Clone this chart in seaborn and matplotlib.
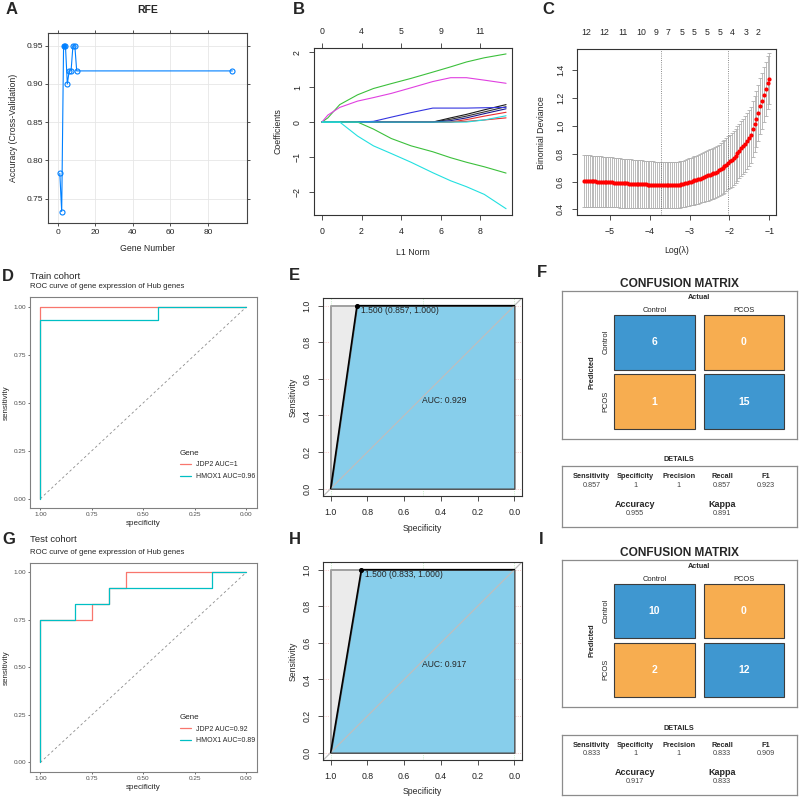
import matplotlib
matplotlib.use("Agg")
import matplotlib.pyplot as plt
import seaborn as sns
import pandas as pd

# ---------------- data ----------------
# A: RFE cross-validation accuracy
rfe_genes = [1, 2, 3, 4, 5, 6, 7, 8, 9, 10, 93]
rfe_accuracy = [0.783, 0.733, 0.950, 0.950, 0.900, 0.917, 0.917, 0.950, 0.950, 0.917, 0.917]
rfe_best = 3

# B: LASSO coefficient paths
l1_norm = [0, 0.3, 0.9, 1.8, 2.6, 3.5, 4.5, 5.6, 6.5, 7.3, 8.2, 9.3]
coef_black1 = [0, 0, 0, 0, 0, 0, 0, 0, 0.12, 0.22, 0.35, 0.50]
coef_black2 = [0, 0, 0, 0, 0, 0, 0, 0, 0.08, 0.17, 0.29, 0.44]
coef_red1 = [0, 0, 0, 0, 0, 0, 0, 0, 0, 0.07, 0.17, 0.28]
coef_red2 = [0, 0, 0, 0, 0, 0, 0, 0, 0, 0.02, 0.06, 0.12]
coef_navy = [0, 0, 0, 0, 0, 0, 0, 0, 0.04, 0.12, 0.24, 0.38]
coef_blue = [0, 0, 0, 0, 0.02, 0.14, 0.27, 0.40, 0.40, 0.40, 0.41, 0.42]
coef_green_up = [0, 0.12, 0.50, 0.78, 0.96, 1.10, 1.25, 1.43, 1.58, 1.72, 1.84, 1.95]
coef_green_down = [0, 0, 0, 0, -0.20, -0.47, -0.68, -0.85, -1.02, -1.15, -1.28, -1.46]
coef_magenta = [0, 0.20, 0.42, 0.60, 0.70, 0.82, 0.98, 1.16, 1.27, 1.27, 1.20, 1.11]
coef_cyan_down = [0, 0, 0, -0.40, -0.68, -0.90, -1.15, -1.45, -1.68, -1.85, -2.07, -2.48]
coef_cyan_small = [0, 0, 0, 0, 0, 0, 0, 0, 0, 0, 0.06, 0.18]
path_df_ticks = [0, 2, 4, 6, 8]
path_df_labels = ["0", "4", "5", "9", "11"]

# C: cross-validated binomial deviance
log_lambda = [-5.65, -5.60, -5.56, -5.51, -5.46, -5.42, -5.37, -5.32, -5.27, -5.23,
              -5.18, -5.13, -5.09, -5.04, -4.99, -4.95, -4.90, -4.85, -4.80, -4.76,
              -4.71, -4.66, -4.62, -4.57, -4.52, -4.48, -4.43, -4.38, -4.33, -4.29,
              -4.24, -4.19, -4.15, -4.10, -4.05, -4.01, -3.96, -3.91, -3.86, -3.82,
              -3.77, -3.72, -3.68, -3.63, -3.58, -3.54, -3.49, -3.44, -3.39, -3.35,
              -3.30, -3.25, -3.21, -3.16, -3.11, -3.07, -3.02, -2.97, -2.92, -2.88,
              -2.83, -2.78, -2.74, -2.69, -2.64, -2.60, -2.55, -2.50, -2.45, -2.41,
              -2.36, -2.31, -2.27, -2.22, -2.17, -2.13, -2.08, -2.03, -1.98, -1.94,
              -1.89, -1.84, -1.80, -1.75, -1.70, -1.66, -1.61, -1.56, -1.51, -1.47,
              -1.42, -1.37, -1.33, -1.28, -1.23, -1.19, -1.14, -1.09, -1.04, -1.00]
cv_mean = [0.607, 0.606, 0.605, 0.604, 0.603, 0.602, 0.601, 0.600, 0.599, 0.599,
           0.598, 0.597, 0.596, 0.595, 0.594, 0.594, 0.593, 0.592, 0.591, 0.590,
           0.589, 0.588, 0.588, 0.587, 0.586, 0.585, 0.585, 0.584, 0.583, 0.583,
           0.582, 0.581, 0.581, 0.580, 0.579, 0.579, 0.578, 0.578, 0.577, 0.577,
           0.576, 0.575, 0.575, 0.575, 0.575, 0.575, 0.575, 0.576, 0.576, 0.576,
           0.577, 0.579, 0.581, 0.584, 0.588, 0.592, 0.596, 0.600, 0.604, 0.608,
           0.612, 0.617, 0.622, 0.627, 0.632, 0.638, 0.644, 0.650, 0.655, 0.660,
           0.665, 0.672, 0.680, 0.690, 0.700, 0.710, 0.722, 0.735, 0.745, 0.756,
           0.768, 0.786, 0.802, 0.820, 0.838, 0.853, 0.872, 0.893, 0.910, 0.935,
           0.975, 1.015, 1.050, 1.095, 1.140, 1.180, 1.225, 1.265, 1.310, 1.340]
cv_sd = [0.186, 0.186, 0.185, 0.185, 0.184, 0.184, 0.183, 0.183, 0.182, 0.182,
         0.181, 0.181, 0.180, 0.180, 0.179, 0.179, 0.178, 0.178, 0.177, 0.177,
         0.176, 0.176, 0.175, 0.175, 0.174, 0.174, 0.173, 0.173, 0.172, 0.172,
         0.171, 0.171, 0.170, 0.170, 0.169, 0.169, 0.168, 0.168, 0.167, 0.167,
         0.166, 0.166, 0.165, 0.165, 0.165, 0.165, 0.165, 0.165, 0.165, 0.165,
         0.166, 0.166, 0.167, 0.167, 0.168, 0.169, 0.170, 0.171, 0.172, 0.173,
         0.174, 0.175, 0.176, 0.177, 0.178, 0.179, 0.180, 0.181, 0.182, 0.183,
         0.184, 0.185, 0.186, 0.187, 0.188, 0.189, 0.190, 0.191, 0.192, 0.193,
         0.194, 0.195, 0.196, 0.197, 0.198, 0.199, 0.200, 0.200, 0.201, 0.201,
         0.202, 0.202, 0.202, 0.202, 0.201, 0.200, 0.198, 0.195, 0.190, 0.185]
lambda_min = -3.71
lambda_1se = -2.03
nz_pos = [-5.6, -5.14, -4.68, -4.21, -3.85, -3.53, -3.2, -2.88, -2.56, -2.23, -1.92, -1.58, -1.27]
nz_labels = ["12", "12", "11", "10", "9", "7", "5", "5", "5", "5", "4", "3", "2"]

# D / G: ROC curves of hub genes
train_jdp2_spec = [1.0, 1.0, 0.0]
train_jdp2_sens = [0.0, 1.0, 1.0]
train_hmox1_spec = [1.0, 1.0, 0.429, 0.429, 0.0]
train_hmox1_sens = [0.0, 0.933, 0.933, 1.0, 1.0]
test_jdp2_spec = [1.0, 1.0, 0.75, 0.75, 0.667, 0.667, 0.583, 0.583, 0.0]
test_jdp2_sens = [0.0, 0.75, 0.75, 0.833, 0.833, 0.917, 0.917, 1.0, 1.0]
test_hmox1_spec = [1.0, 1.0, 0.833, 0.833, 0.667, 0.667, 0.167, 0.167, 0.0]
test_hmox1_sens = [0.0, 0.75, 0.75, 0.833, 0.833, 0.917, 0.917, 1.0, 1.0]
ref_line = [0.0, 1.0]

# E / H: model ROC
train_roc_spec = [1.0, 0.857, 0.0]
train_roc_sens = [0.0, 1.0, 1.0]
test_roc_spec = [1.0, 0.833, 0.0]
test_roc_sens = [0.0, 1.0, 1.0]
perfect_spec = [1.0, 0.0]
perfect_sens = [1.0, 1.0]

# F / I: confusion matrices
class_names = ["Control", "PCOS"]
train_cm = [[6, 0], [1, 15]]
test_cm = [[10, 0], [2, 12]]
metric_names = ["Sensitivity", "Specificity", "Precision", "Recall", "F1"]
train_metrics = ["0.857", "1", "1", "0.857", "0.923"]
test_metrics = ["0.833", "1", "1", "0.833", "0.909"]
train_acc, train_kappa = "0.955", "0.891"
test_acc, test_kappa = "0.917", "0.833"

# ---------------- style ----------------
sns.set_theme(style="white")
plt.rcParams["font.family"] = ["Liberation Sans", "DejaVu Sans"]

W = H = 800
fig = plt.figure(figsize=(8, 8), dpi=100)


def add_ax(x0, y0, x1, y1):
    return fig.add_axes([x0 / W, 1 - y1 / H, (x1 - x0) / W, (y1 - y0) / H])


def place_labels(ax, box, xlab_y, ylab_x):
    x0, y0, x1, y1 = box
    ax.xaxis.label.set_va("center")
    ax.xaxis.set_label_coords(0.5, (y1 - xlab_y) / (y1 - y0))
    ax.yaxis.label.set_va("center")
    ax.yaxis.set_label_coords((ylab_x - x0) / (x1 - x0), 0.5)


def base_r(ax):
    for s in ax.spines.values():
        s.set_color("#333333")
        s.set_linewidth(0.8)
    ax.tick_params(direction="out", length=3.6, width=0.6, labelsize=6.3, pad=5.0,
                   bottom=True, left=True, color="#333333", labelcolor="#222222")
    ax.tick_params(axis="y", labelrotation=90)
    plt.setp(ax.get_yticklabels(), va="center")


def panel_letter(x, y, s):
    fig.text(x / W, 1 - y / H, s, fontsize=12, fontweight="bold", ha="center", va="center")


# ---------------- A ----------------
box = (48, 33, 247, 223)
ax = add_ax(*box)
ax.set_axisbelow(True)
ax.grid(True, color="#E6E6E6", lw=0.6)
rfe_df = pd.DataFrame({"genes": rfe_genes, "acc": rfe_accuracy})
sns.lineplot(data=rfe_df, x="genes", y="acc", ax=ax, color="#0080FF", lw=0.8,
             marker="o", markersize=3.6, markerfacecolor="none",
             markeredgecolor="#0080FF", markeredgewidth=0.8)
sns.scatterplot(data=rfe_df[rfe_df["genes"] == rfe_best], x="genes", y="acc", ax=ax,
                color="#0080FF", s=12, linewidth=0, zorder=3)
ax.set_xlim(-5.3, 100.8)
ax.set_ylim(0.718, 0.9666)
ax.set_xticks([0, 20, 40, 60, 80])
ax.set_yticks([0.75, 0.80, 0.85, 0.90, 0.95], ["0.75", "0.80", "0.85", "0.90", "0.95"])
ax.tick_params(direction="out", length=2.4, width=0.6, top=True, right=True, bottom=True,
               left=True, labelsize=6, pad=1.2, color="#333333")
ax.tick_params(axis="x", pad=1.8)
for s in ax.spines.values():
    s.set_color("#444444")
    s.set_linewidth(0.8)
ax.set_xlabel("Gene Number", fontsize=6.3)
ax.set_ylabel("Accuracy (Cross-Validation)", fontsize=6.3)
place_labels(ax, box, 248.3, 13.3)
ax.text(0.5, 1 + 23 / 190, "RFE", transform=ax.transAxes, ha="center", va="center",
        fontsize=7.5, fontweight="bold")

# ---------------- B ----------------
box = (314, 48, 512, 215)
ax = add_ax(*box)
paths = [("black1", coef_black1, "#1a1a1a"), ("black2", coef_black2, "#333333"),
         ("red1", coef_red1, "#e83030"), ("red2", coef_red2, "#e83030"),
         ("navy", coef_navy, "#1a1a8c"), ("blue", coef_blue, "#3535e0"),
         ("green_up", coef_green_up, "#3cc03c"), ("green_down", coef_green_down, "#3cc03c"),
         ("magenta", coef_magenta, "#e040e0"), ("cyan_down", coef_cyan_down, "#22e0e0"),
         ("cyan_small", coef_cyan_small, "#22e0e0")]
path_df = pd.concat([pd.DataFrame({"norm": l1_norm, "coef": v, "path": n}) for n, v, _ in paths])
sns.lineplot(data=path_df, x="norm", y="coef", hue="path", hue_order=[p[0] for p in paths],
             palette={n: c for n, _, c in paths}, estimator=None, legend=False, lw=0.8, ax=ax)
ax.set_xlim(-0.4, 9.6)
ax.set_ylim(-2.66, 2.12)
ax.set_xticks([0, 2, 4, 6, 8])
ax.set_yticks([-2, -1, 0, 1, 2])
base_r(ax)
top = ax.secondary_xaxis("top")
top.set_xticks(path_df_ticks, path_df_labels)
top.spines["top"].set_visible(False)
top.tick_params(length=3.6, width=0.6, pad=5.0, labelsize=6.3, color="#333333")
ax.set_xlabel("L1 Norm", fontsize=6.3)
ax.set_ylabel("Coefficients", fontsize=6.3)
place_labels(ax, box, 252.3, 278.3)

# ---------------- C ----------------
box = (577, 49.3, 776, 215)
ax = add_ax(*box)
ax.errorbar(log_lambda, cv_mean, yerr=cv_sd, fmt="none", ecolor="#B0B0B0",
            elinewidth=0.6, capsize=1.6, capthick=0.6)
sns.scatterplot(x=log_lambda, y=cv_mean, color="red", s=9, linewidth=0, ax=ax, zorder=3)
ax.axvline(lambda_min, color="#666666", ls=":", lw=0.6)
ax.axvline(lambda_1se, color="#666666", ls=":", lw=0.6)
ax.set_xlim(-5.83, -0.83)
ax.set_ylim(0.36, 1.55)
ax.set_xticks([-5, -4, -3, -2, -1])
ax.set_yticks([0.4, 0.6, 0.8, 1.0, 1.2, 1.4], ["0.4", "0.6", "0.8", "1.0", "1.2", "1.4"])
base_r(ax)
top = ax.secondary_xaxis("top")
top.set_xticks(nz_pos, nz_labels)
top.spines["top"].set_visible(False)
top.tick_params(length=0, pad=9.0, labelsize=6.3)
ax.set_xlabel("Log(λ)", fontsize=6.3)
ax.set_ylabel("Binomial Deviance", fontsize=6.3)
place_labels(ax, box, 250.7, 541.7)


# ---------------- D / G ----------------
def gg_roc(box, jdp_spec, jdp_sens, hm_spec, hm_sens, jdp_lab, hm_lab, title, title_y, sub_y, xlab_y):
    ax = add_ax(*box)
    h = box[3] - box[1]
    df = pd.concat([pd.DataFrame({"spec": jdp_spec, "sens": jdp_sens, "Gene": jdp_lab}),
                    pd.DataFrame({"spec": hm_spec, "sens": hm_sens, "Gene": hm_lab})])
    ax.plot(ref_line[::-1], ref_line, ls=(0, (3, 3)), color="#8C8C8C", lw=0.6)
    sns.lineplot(data=df, x="spec", y="sens", hue="Gene", palette=["#F8766D", "#00BFC4"],
                 estimator=None, sort=False, lw=0.9, ax=ax)
    ax.set_xlim(1.05, -0.05)
    ax.set_ylim(-0.05, 1.05)
    ax.set_xticks([1.0, 0.75, 0.5, 0.25, 0.0], ["1.00", "0.75", "0.50", "0.25", "0.00"])
    ax.set_yticks([0.0, 0.25, 0.5, 0.75, 1.0], ["0.00", "0.25", "0.50", "0.75", "1.00"])
    ax.tick_params(direction="out", length=1.6, width=0.5, labelsize=4.6, pad=1.0,
                   bottom=True, left=True, color="#333333", labelcolor="#4D4D4D")
    for s in ax.spines.values():
        s.set_color("#808080")
        s.set_linewidth(0.8)
    ax.set_xlabel("specificity", fontsize=5.8)
    ax.set_ylabel("sensitivity", fontsize=5.8)
    place_labels(ax, box, xlab_y, 6.7)
    ax.text(0, 1 + (box[1] - title_y) / h, title, transform=ax.transAxes, fontsize=6.8,
            ha="left", va="center")
    ax.text(0, 1 + (box[1] - sub_y) / h, "ROC curve of gene expression of Hub genes",
            transform=ax.transAxes, fontsize=5.6, ha="left", va="center")
    ax.legend(title="Gene", loc="upper left", bbox_to_anchor=(0.645, 0.295), frameon=False,
              fontsize=5.0, title_fontsize=5.8, handlelength=1.7, handletextpad=0.6,
              borderpad=0, labelspacing=0.7, alignment="left")


gg_roc((30, 297.3, 256.7, 508.3), train_jdp2_spec, train_jdp2_sens, train_hmox1_spec,
       train_hmox1_sens, "JDP2 AUC=1", "HMOX1 AUC=0.96", "Train cohort", 276.7, 286.7, 523.3)
gg_roc((30, 562.7, 256.7, 772), test_jdp2_spec, test_jdp2_sens, test_hmox1_spec,
       test_hmox1_sens, "JDP2 AUC=0.92", "HMOX1 AUC=0.89", "Test cohort", 540, 552.7, 787.3)


# ---------------- E / H ----------------
def proc_panel(box, spec, sens, auc, xlab_y):
    ax = add_ax(*box)
    for g in [0.0, 0.5, 1.0]:
        ax.axvline(g, color="#B5E6B5", ls=":", lw=0.6, zorder=0)
    for g in [0.0, 0.2, 0.4, 0.6, 0.8, 1.0]:
        ax.axhline(g, color="#F2B5B5", ls=":", lw=0.6, zorder=0)
    ax.fill_between(perfect_spec, perfect_sens, color="#EBEBEB", edgecolor="#A0A0A0", lw=1.4)
    ax.fill_between(spec, sens, color="#87CEEB", edgecolor="#4D4D4D", lw=1.0)
    ax.axline((0, 1), (1, 0), color="#BEBEBE", lw=0.9)
    sns.lineplot(x=spec, y=sens, color="black", lw=1.1, estimator=None, sort=False, ax=ax)
    ax.scatter([spec[1]], [sens[1]], color="black", s=7, zorder=5)
    ax.annotate(f"1.500 ({spec[1]:.3f}, {sens[1]:.3f})", (spec[1], sens[1]),
                textcoords="offset points", xytext=(3, -3.5), ha="left", va="center", fontsize=6.2)
    ax.text(0.5, 0.48, f"AUC: {auc}", ha="left", va="center", fontsize=6.2)
    ax.set_xlim(1.04, -0.04)
    ax.set_ylim(-0.04, 1.04)
    ticks = [1.0, 0.8, 0.6, 0.4, 0.2, 0.0]
    ax.set_xticks(ticks, [f"{t:.1f}" for t in ticks])
    ax.set_yticks(ticks, [f"{t:.1f}" for t in ticks])
    base_r(ax)
    ax.set_xlabel("Specificity", fontsize=6.2)
    ax.set_ylabel("Sensitivity", fontsize=6.2)
    place_labels(ax, box, xlab_y, 292.7)


proc_panel((323.3, 298.3, 521.7, 496), train_roc_spec, train_roc_sens, "0.929", 528.3)
proc_panel((323.3, 562.3, 521.7, 760), test_roc_spec, test_roc_sens, "0.917", 791.7)


# ---------------- F / I ----------------
def conf_panel(cm_box, det_box, cm, metrics, acc, kappa):
    ax = add_ax(*cm_box)
    for i, row in enumerate(cm):
        colors = ["#3F97D0" if i == j else "#F7AD50" for j in range(len(row))]
        ax.bar(range(len(row)), [0.92] * len(row), bottom=i - 0.46, width=0.9,
               color=colors, edgecolor="#3C3C3C", lw=0.8)
        for j, v in enumerate(row):
            ax.text(j, i, str(v), color="white", fontsize=7.5, fontweight="bold",
                    ha="center", va="center")
    for k, name in enumerate(class_names):
        ax.text(k, -0.535, name, fontsize=5.4, ha="center", va="center", color="#222222")
        ax.text(-0.54, k, name, fontsize=5.4, ha="center", va="center", rotation=90, color="#222222")
    ax.text(0.5, -0.76, "Actual", fontsize=5.2, fontweight="bold", ha="center", va="center")
    ax.text(-0.70, 0.5, "Predicted", fontsize=5.3, fontweight="bold", ha="center",
            va="center", rotation=90)
    ax.set_xlim(-1.04, 1.594)
    ax.set_ylim(1.63, -0.865)
    ax.set_xticks([])
    ax.set_yticks([])
    for s in ax.spines.values():
        s.set_color("#8C8C8C")
        s.set_linewidth(0.9)
    ax.text(0.5, 1 + 6.8 / (cm_box[3] - cm_box[1]), "CONFUSION MATRIX", transform=ax.transAxes,
            fontsize=8.6, fontweight="bold", ha="center", va="center")

    ax2 = add_ax(*det_box)
    ax2.set_xlim(0, 1)
    ax2.set_ylim(0, 1)
    ax2.set_xticks([])
    ax2.set_yticks([])
    for s in ax2.spines.values():
        s.set_color("#8C8C8C")
        s.set_linewidth(0.9)
    for k, (name, val) in enumerate(zip(metric_names, metrics)):
        x = 0.128 + 0.185 * k
        ax2.text(x, 0.825, name, fontsize=5.3, fontweight="bold", ha="center", va="center")
        ax2.text(x, 0.69, val, fontsize=5.2, ha="center", va="center", color="#444444")
    for x, name, val in [(0.313, "Accuracy", acc), (0.683, "Kappa", kappa)]:
        ax2.text(x, 0.37, name, fontsize=6.5, fontweight="bold", ha="center", va="center")
        ax2.text(x, 0.22, val, fontsize=5.2, ha="center", va="center", color="#444444")
    ax2.text(0.5, 1.105, "DETAILS", fontsize=5.2, fontweight="bold", ha="center", va="center")


conf_panel((561.7, 291, 796.7, 439), (561.7, 466.3, 796.7, 526.7), train_cm,
           train_metrics, train_acc, train_kappa)
conf_panel((561.7, 560, 796.7, 706.7), (561.7, 734.7, 796.7, 795), test_cm,
           test_metrics, test_acc, test_kappa)

# ---------------- panel letters ----------------
for x, y, s in [(12, 10, "A"), (299, 10, "B"), (548, 10, "C"),
                (8, 276.7, "D"), (294, 275, "E"), (541.5, 272, "F"),
                (8.5, 540, "G"), (295, 540, "H"), (541.5, 540, "I")]:
    panel_letter(x, y, s)

fig.savefig("out.png", dpi=100)
